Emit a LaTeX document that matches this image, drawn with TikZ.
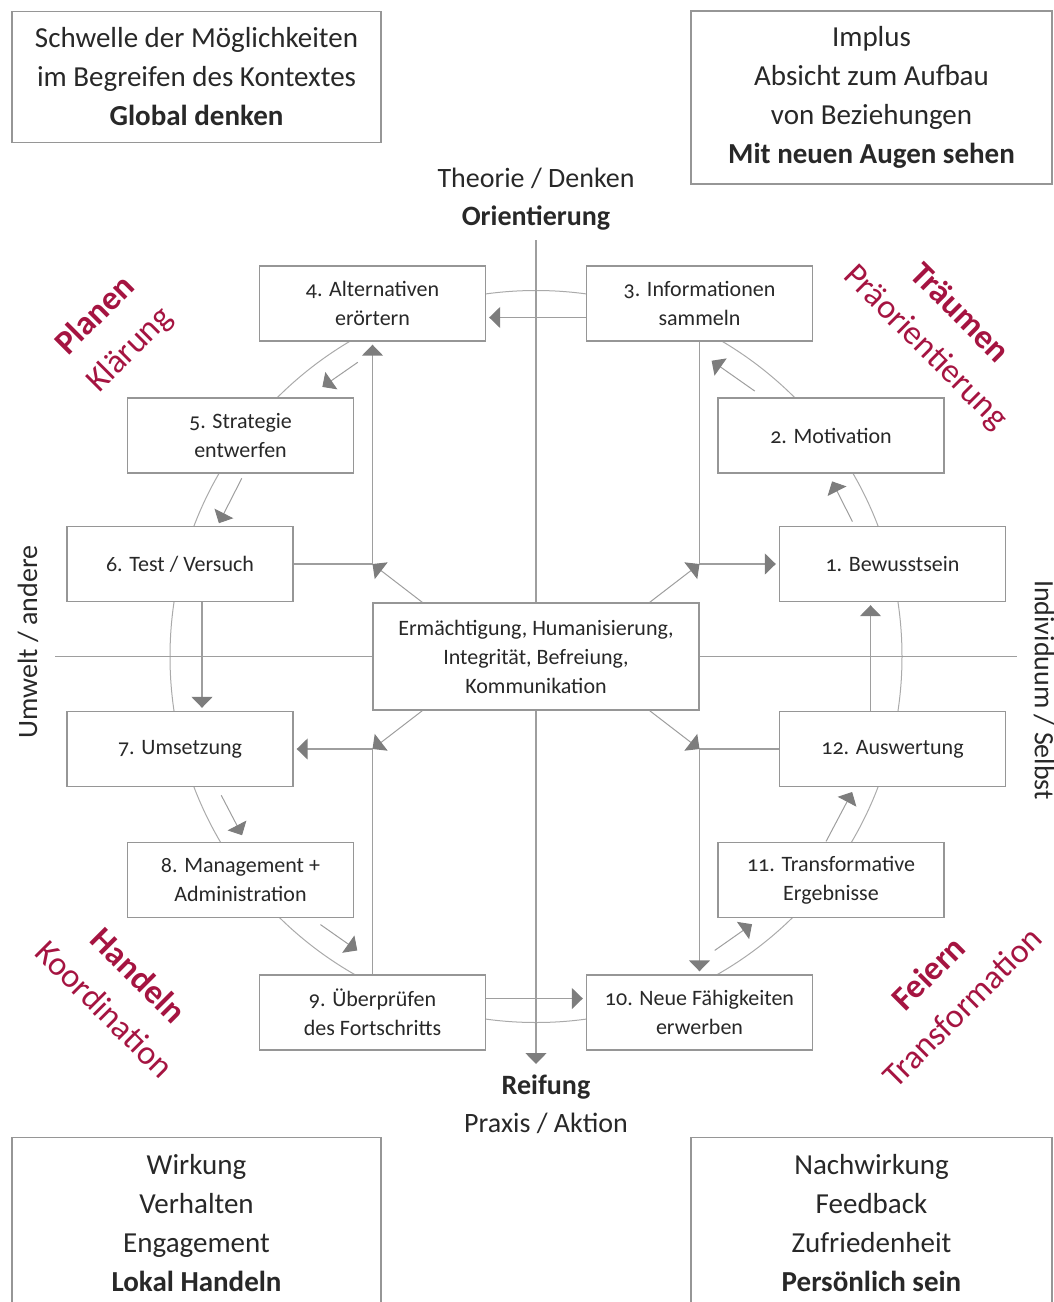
\documentclass[tikz,border=0pt]{standalone}
\usepackage{fontspec}
\setmainfont{Carlito}[Numbers=OldStyle]
\usetikzlibrary{arrows.meta,calc,backgrounds}
\definecolor{frame}{RGB}{150,150,150}
\definecolor{wire}{RGB}{158,158,158}
\definecolor{tipgray}{RGB}{125,125,125}
\definecolor{ringgray}{RGB}{170,170,170}
\definecolor{ink}{RGB}{40,40,40}
\definecolor{berry}{RGB}{165,20,65}
\tikzset{
  >={Triangle[length=5.5pt,width=10.5pt,color=tipgray]},
  stage/.style={draw=frame,fill=white,line width=0.7pt,minimum width=113pt,
    minimum height=37.5pt,inner sep=1pt,align=center,text=ink,
    font=\fontsize{11}{14.5}\selectfont},
  corner/.style={draw=frame,fill=white,line width=0.7pt,align=center,text=ink,
    font=\fontsize{14.5}{19.5}\selectfont},
  link/.style={->,draw=wire,line width=0.75pt,shorten >=1.5pt},
  turn/.style={->,draw=wire,line width=0.5pt},
  axisline/.style={draw=wire,line width=0.8pt},
  pole/.style={text=ink,align=center,font=\fontsize{14}{19}\selectfont},
  phase/.style={text=berry,align=center,font=\fontsize{17}{24}\selectfont},
}

\begin{document}
\begin{tikzpicture}[x=0.5pt,y=-0.5pt]
  \useasboundingbox (0,0) rectangle (1054,1302);
  \clip (0,0) rectangle (1054,1302);

  % corner boxes
  \node[corner,minimum width=184.5pt,minimum height=65.5pt] (tl) at (196.5,77)
    {Schwelle der Möglichkeiten\\im Begreifen des Kontextes\\\textbf{Global denken}};
  \node[corner,minimum width=180.5pt,minimum height=86.5pt] (tr) at (871.5,97.5)
    {Implus\\Absicht zum Aufbau\\von Beziehungen\\\textbf{Mit neuen Augen sehen}};
  \node[corner,minimum width=184.5pt,minimum height=85.5pt] (bl) at (196.5,1223)
    {Wirkung\\Verhalten\\Engagement\\\textbf{Lokal Handeln}};
  \node[corner,minimum width=180.5pt,minimum height=85.5pt] (br) at (871.5,1223)
    {Nachwirkung\\Feedback\\Zufriedenheit\\\textbf{Persönlich sein}};

  % poles
  \node[pole] (theorie) at (536,199) {Theorie / Denken\\\textbf{Orientierung}};
  \node[pole] (reifung) at (546,1104) {\textbf{Reifung}\\Praxis / Aktion};
  \node[pole,rotate=90] (umwelt) at (28,642) {Umwelt / andere};
  \node[pole,rotate=-90] (indiv) at (1044,690) {Individuum / Selbst};

  % phases
  \node[phase,rotate=45] (planen) at (113,333) {\textbf{Planen}\\Klärung};
  \node[phase,rotate=-45] (traeumen) at (942,331) {\textbf{Träumen}\\Präorientierung};
  \node[phase,rotate=-45] (handeln) at (122,992) {\textbf{Handeln}\\Koordination};
  \node[phase,rotate=45] (feiern) at (945,990) {\textbf{Feiern}\\Transformation};

  % stages
  \node[stage,minimum width=163pt,minimum height=53.5pt] (hub) at (536,656.5)
    {Ermächtigung, Humanisierung,\\Integrität, Befreiung,\\Kommunikation};
  \node[stage] (b1) at (892.5,564) {1. Bewusstsein};
  \node[stage] (b2) at (831,435.5) {2. Motivation};
  \node[stage] (b3) at (699.5,303.5) {3. Informationen\\sammeln};
  \node[stage] (b4) at (372.5,303.5) {4. Alternativen\\erörtern};
  \node[stage] (b5) at (240.5,435.5) {5. Strategie\\entwerfen};
  \node[stage] (b6) at (180,564) {6. Test / Versuch};
  \node[stage] (b7) at (180,749) {7. Umsetzung};
  \node[stage] (b8) at (240.5,880) {8. Management +\\Administration};
  \node[stage] (b9) at (372.5,1012.5) {9. Überprüfen\\des Fortschritts};
  \node[stage] (b10) at (699.5,1012.5) {10. Neue Fähigkeiten\\erwerben};
  \node[stage] (b11) at (831,880) {11. Transformative\\Ergebnisse};
  \node[stage] (b12) at (892.5,749) {12. Auswertung};

  \coordinate (ntop) at (536,240);
  \coordinate (nbot) at (536,1064);
  \coordinate (wleft) at (55,656.5);
  \coordinate (wright) at (1017,656.5);
  \begin{scope}[on background layer]
    \draw[draw=ringgray,line width=0.5pt] (hub.center) circle[radius=183pt];
    \draw[axisline,->] (ntop) -- (nbot);
    \draw[axisline] (wleft) -- (wright);
  \end{scope}

  % straight steps
  \draw[link] ([yshift=-7pt]b3.west) -- ([yshift=-7pt]b4.east);
  \draw[link] ([xshift=11pt]b6.south) -- ([xshift=11pt]b7.north);
  \draw[link] ([yshift=7pt]b9.east) -- ([yshift=7pt]b10.west);
  \draw[link] ([xshift=-11pt]b12.north) -- ([xshift=-11pt]b1.south);

  % short steps along the ring
  \foreach \a/\b in {-23.1/-30.6,-50.5/-59.3,-121.2/-128.4,-148.8/-157.2,
                     156.2/148.7,128.8/121.3,58.7/51.1,32.5/23.2}
    \draw[turn] ($(hub.center)+(\a:344)$) -- ($(hub.center)+(\b:344)$);

  % cross links through the quadrants
  \draw[link] (b6.east) -| (b4.south);
  \draw[link] (b3.south) |- (b1.west);
  \draw[link] (b9.north) |- (b7.east);
  \draw[link] (b12.west) -| (b10.north);
  \coordinate (kTL) at (b6.east -| b4.south);
  \coordinate (kTR) at (b1.west -| b3.south);
  \coordinate (kBL) at (b7.east -| b9.north);
  \coordinate (kBR) at (b12.west -| b10.north);
  \draw[turn] ([xshift=25pt]hub.north west) -- (kTL);
  \draw[turn] ([xshift=-25pt]hub.north east) -- (kTR);
  \draw[turn] ([xshift=25pt]hub.south west) -- (kBL);
  \draw[turn] ([xshift=-25pt]hub.south east) -- (kBR);
\end{tikzpicture}
\end{document}
